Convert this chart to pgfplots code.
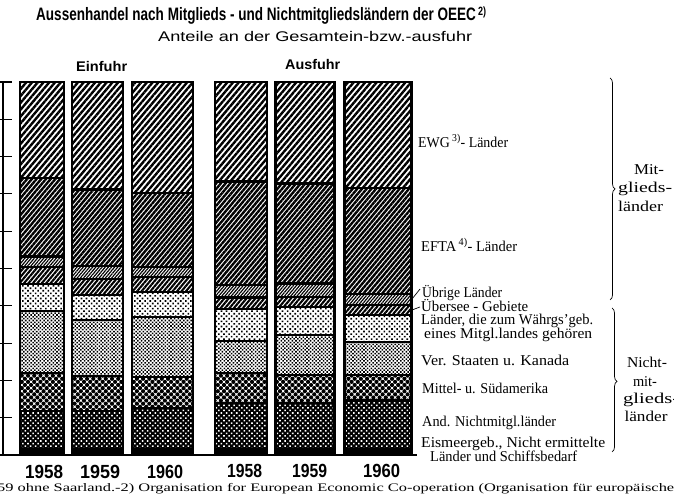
\documentclass[border=0pt]{standalone}
\usepackage{pgfplots}
\pgfplotsset{compat=1.18}
\usepackage{pgfplotstable}
\usepackage{graphicx}
\usepackage{fontspec}
\setmainfont{Liberation Serif}
\newfontfamily\sansf{Liberation Sans}
\usetikzlibrary{patterns.meta,decorations.pathreplacing}

% rows: Einfuhr 1958, 1959, 1960, Ausfuhr 1958, 1959, 1960 (percent shares)
\pgfplotstableread{
x     eis andl mit  ver  wae  ueb  uebr efta ewg
42    1.5 10.3 10.1 16.7 7.2  4.5  2.9  21.0 25.8
97.5  1.5 10.4 9.3  15.0 6.7  4.2  3.6  20.5 28.8
162.5 1.5 11.0 8.5  16.1 6.6  4.1  2.7  19.8 29.7
241   1.5 12.5 7.9  8.7  8.6  3.0  3.4  27.7 26.7
305   1.5 12.4 7.5  10.8 7.4  2.7  3.7  26.8 27.2
378   1.5 13.1 6.8  8.9  7.2  2.7  2.9  28.4 28.5
}\data

\pgfplotsset{
  base/.style={scale only axis, width=414pt, height=373pt,
    xmin=3, xmax=417, ymin=0, ymax=100,
    at={(3pt,42pt)}, anchor=south west,
    ybar stacked, clip=false, xtick=\empty, ytick=\empty},
  seg/.style={draw=black, line width=2.2pt},
}

\newcommand\barcol[3]{%
\begin{axis}[base, bar width=#2, restrict x to domain=#1, #3]
\addplot[seg, fill=black] table[x=x,y=eis]{\data};
\addplot[seg, fill=black, postaction={pattern color=white, pattern={Dots[angle=45,distance=3.6pt,radius=1.1pt]}}] table[x=x,y=andl]{\data};
\addplot[seg, pattern={Dots[angle=45,distance=4.4pt,radius=2.1pt]}] table[x=x,y=mit]{\data};
\addplot[seg, pattern={Dots[angle=45,distance=2.6pt,radius=1.1pt]}] table[x=x,y=ver]{\data};
\addplot[seg, pattern={Dots[angle=45,distance=3.6pt,radius=1.15pt]}] table[x=x,y=wae]{\data};
\addplot[seg, pattern={Lines[angle=50,distance=3.4pt,line width=2.1pt]}] table[x=x,y=ueb]{\data};
\addplot[seg, pattern={Lines[angle=50,distance=2.4pt,line width=1.2pt]}] table[x=x,y=uebr]{\data};
\addplot[seg, pattern={Lines[angle=50,distance=3.6pt,line width=2.4pt]}] table[x=x,y=efta]{\data};
\addplot[seg, pattern={Lines[angle=50,distance=4.4pt,line width=2.4pt]}] table[x=x,y=ewg]{\data};
\end{axis}}

\tikzset{
  lab/.style={anchor=west, inner sep=0pt, font=\fontsize{15}{17}\selectfont},
  grp/.style={anchor=center, inner sep=0pt, font=\fontsize{15}{17}\selectfont},
  yr/.style={anchor=base west, inner sep=0pt, font=\fontsize{19}{21}\sansf\bfseries},
}

\begin{document}
\begin{tikzpicture}
\useasboundingbox (0,0) rectangle (674pt,497pt);

\barcol{40:44}{44}{axis lines=left, x axis line style={-, line width=2.4pt}, y axis line style={-, line width=1.3pt}}
\barcol{96:99}{51}{hide axis}
\barcol{161:164}{61}{hide axis}
\barcol{240:242}{52}{hide axis}
\barcol{304:306}{59}{hide axis}
\barcol{377:379}{67}{hide axis}

% tick marks on the left axis, every 10 percent (0 at y=42pt, 100 at y=415pt)
\foreach \t in {0,1,...,10} {
  \draw[line width=1.1pt] (0pt,{(42+37.3*\t)*1pt}) -- ++(12pt,0pt);
}

% titles
\node[anchor=base west, inner sep=0pt] at (36pt,476pt)
  {\resizebox{450pt}{\height}{\fontsize{18}{20}\sansf\bfseries Aussenhandel nach Mitglieds - und Nichtmitgliedsländern der OEEC\,\raisebox{0.3em}{\fontsize{12}{12}\selectfont 2)}}};
\node[anchor=base west, inner sep=0pt] at (158pt,455pt)
  {\resizebox{314pt}{\height}{\fontsize{14}{16}\sansf Anteile an der Gesamtein-bzw.-ausfuhr}};
\node[anchor=base west, inner sep=0pt] at (76pt,425pt)
  {\resizebox{51pt}{\height}{\fontsize{14}{16}\sansf\bfseries Einfuhr}};
\node[anchor=base west, inner sep=0pt] at (285pt,427pt)
  {\resizebox{55pt}{\height}{\fontsize{14}{16}\sansf\bfseries Ausfuhr}};

% years
\node[yr] at (25pt,18pt) {\resizebox{38pt}{\height}{1958}};
\node[yr] at (80pt,18pt) {\resizebox{40pt}{\height}{1959}};
\node[yr] at (147pt,18pt) {\resizebox{36pt}{\height}{1960}};
\node[yr] at (227pt,19pt) {\resizebox{35pt}{\height}{1958}};
\node[yr] at (292pt,19pt) {\resizebox{35pt}{\height}{1959}};
\node[yr] at (363pt,19pt) {\resizebox{37pt}{\height}{1960}};

% series labels
\node[lab] at (418pt,356pt) {\resizebox{90pt}{\height}{EWG\,\textsuperscript{3)}- Länder}};
\node[lab] at (421pt,252pt) {\resizebox{96pt}{\height}{EFTA\,\textsuperscript{4)}- Länder}};
\node[lab] at (422pt,204pt) {\resizebox{80pt}{\height}{Übrige Länder}};
\node[lab] at (421pt,191pt) {\resizebox{107pt}{\height}{Übersee - Gebiete}};
\node[lab] at (421pt,176pt) {\resizebox{172pt}{\height}{Länder, die zum Währgs'geb.}};
\node[lab] at (424pt,162pt) {\resizebox{168pt}{\height}{eines Mitgl.landes gehören}};
\node[lab] at (421pt,137pt) {\resizebox{148pt}{\height}{Ver. Staaten u. Kanada}};
\node[lab] at (422pt,109pt) {\resizebox{126pt}{\height}{Mittel- u. Südamerika}};
\node[lab] at (422pt,74pt) {\resizebox{134pt}{\height}{And. Nichtmitgl.länder}};
\node[lab] at (421pt,53pt) {\resizebox{184pt}{\height}{Eismeergeb., Nicht ermittelte}};
\node[lab] at (430pt,41pt) {\resizebox{147pt}{\height}{Länder und Schiffsbedarf}};

\draw[line width=0.7pt] (412pt,198pt) -- (420pt,208pt);
\draw[line width=0.7pt] (412pt,187pt) -- (420pt,190pt);

% group braces
\draw[line width=0.7pt, decorate, decoration={brace, amplitude=5pt, aspect=0.5}] (610pt,419pt) -- (610pt,197pt);
\draw[line width=0.7pt, decorate, decoration={brace, amplitude=5pt, aspect=0.51}] (612pt,189pt) -- (612pt,45pt);

\node[grp] at (649pt,327pt) {\resizebox{30pt}{\height}{Mit-}};
\node[anchor=west, inner sep=0pt, font=\fontsize{15}{17}\selectfont] at (618pt,308pt) {\resizebox{54pt}{\height}{glieds-}};
\node[anchor=west, inner sep=0pt, font=\fontsize{15}{17}\selectfont] at (618pt,291pt) {\resizebox{45pt}{\height}{länder}};
\node[grp] at (647pt,135pt) {\resizebox{40pt}{\height}{Nicht-}};
\node[grp] at (645pt,115pt) {\resizebox{24pt}{\height}{mit-}};
\node[anchor=west, inner sep=0pt, font=\fontsize{15}{17}\selectfont] at (623pt,97pt) {\resizebox{56pt}{\height}{glieds-}};
\node[grp] at (646pt,81pt) {\resizebox{43pt}{\height}{länder}};

% footnote
\node[anchor=west, inner sep=0pt] at (-3pt,8pt)
  {\resizebox{677pt}{\height}{\fontsize{11.5}{13}\selectfont 59 ohne Saarland.-2) Organisation for European Economic Co-operation (Organisation für europäische}};
\end{tikzpicture}
\end{document}
